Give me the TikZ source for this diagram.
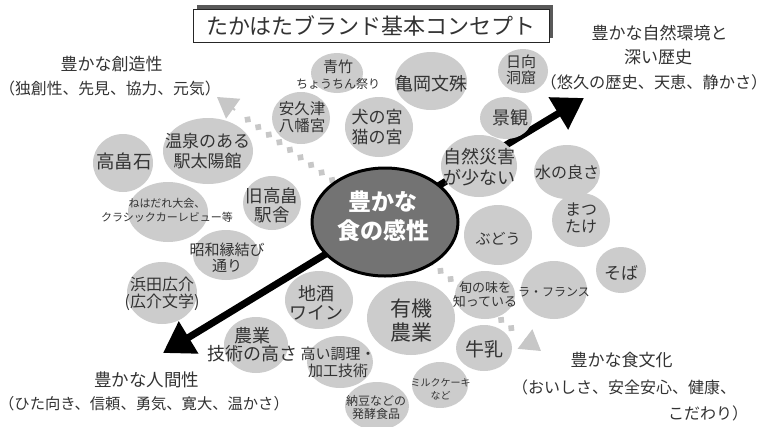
\documentclass[tikz,border=0pt]{standalone}
\usepackage{fontspec}
\setmainfont{Noto Sans CJK JP}
\usetikzlibrary{shapes.geometric,arrows.meta,decorations.markings}
\newcommand{\myfs}[2]{\fontsize{#1}{#2}\selectfont}
\newcommand{\bubb}[9]{%
  \node[bubble, minimum width=#4pt, minimum height=#5pt] (#1) at (#2,#3) {};
  \node[btext, font=#8] (#1-t) at (#6,#7) {#9};}
\tikzset{
  bubble/.style={ellipse, fill=black!20, draw=none, inner sep=0pt},
  btext/.style={align=center, text=black!80, inner sep=0pt},
  lab/.style={text=black!80, inner sep=0pt, font=\myfs{17}{20}},
  sub/.style={text=black!80, inner sep=0pt, font=\myfs{16}{19}},
  bigarrow/.style={line width=7pt, draw=black, -{Triangle[length=30pt,width=36pt]}},
  dotpath/.style={postaction={decorate}, decoration={markings,
      mark=between positions 0 and 1 step 13pt with {\fill[black!22] (-4,0)--(0,4)--(4,0)--(0,-4)--cycle;}}},
  dothead/.style={draw=black!22, line width=2pt, -{Triangle[length=20pt,width=24pt]}},
  coretxt/.style={align=center, inner sep=0pt, font=\bfseries\myfs{23}{29}},
}
\begin{document}
\begin{tikzpicture}[x=1pt,y=-1pt]
\useasboundingbox (0,0) rectangle (768,426);
\fill[white] (0,0) rectangle (768,426);

% title
\fill[black!65] (197,5) rectangle (553,38);
\node[draw=black!85, fill=white, line width=1pt, minimum width=356pt, minimum height=33pt,
      inner sep=0pt, font=\myfs{22}{24}, text=black!80] (title) at (371,25.5) {たかはたブランド基本コンセプト};

% corner labels
\node[lab] (ul1) at (111.5,64.5) {豊かな創造性};
\node[sub, font=\myfs{15.8}{19}] (ul2) at (110,88) {（独創性、先見、協力、元気）};
\node[lab] (ur1) at (659.5,32.5) {豊かな自然環境と};
\node[lab] (ur2) at (658,57) {深い歴史};
\node[sub, font=\myfs{16.2}{19}] (ur3) at (654,82) {（悠久の歴史、天恵、静かさ）};
\node[lab, font=\myfs{17.5}{20}] (ll1) at (146.5,380) {豊かな人間性};
\node[sub, font=\myfs{15.3}{19}] (ll2) at (144,403.5) {（ひた向き、信頼、勇気、寛大、温かさ）};
\node[lab] (lr1) at (621.5,360) {豊かな食文化};
\node[sub] (lr2) at (624,387.5) {（おいしさ、安全安心、健康、};
\node[sub] (lr3) at (708,413.5) {こだわり）};

% coordinates
\coordinate (ctr) at (385,218);
\coordinate (ulE) at (240,114);
\coordinate (ulA) at (235,110);
\coordinate (ulT) at (217,97);
\coordinate (lrS) at (390,230);
\coordinate (lrE) at (521,336);
\coordinate (lrA) at (525,339);
\coordinate (lrT) at (541,351);
\coordinate (neT) at (584,98);
\coordinate (swT) at (163,353);

% dotted grey arrows
\path[dotpath] (ctr) -- (ulE);
\draw[dothead] (ulA) -- (ulT);
\path[dotpath] (lrS) -- (lrE);
\draw[dothead] (lrA) -- (lrT);

% black arrow to upper right (behind the bubbles)
\draw[bigarrow] (ctr) -- (neT);

% bubbles
\bubb{aotake}{337}{73}{52}{40}{338}{75}{\myfs{12}{16}}{{\myfs{15}{16}青竹}\\ちょうちん祭り}
\bubb{kameoka}{431}{81}{72}{58}{431}{83.5}{\myfs{18}{20}}{亀岡文殊}
\bubb{hyuga}{523}{71}{50}{44}{521}{70}{\myfs{15}{16.5}}{日向\\洞窟}
\bubb{keikan}{506}{118}{52}{42}{510}{117.5}{\myfs{18}{20}}{景観}
\bubb{akutsu}{301}{118}{58}{52}{302}{117}{\myfs{15.5}{16.5}}{安久津\\八幡宮}
\bubb{inu}{379}{127}{68}{60}{377}{127}{\myfs{17}{19.5}}{犬の宮\\猫の宮}
\bubb{shizen}{479}{166}{76}{62}{479}{167}{\myfs{18}{20.5}}{自然災害\\が少ない}
\bubb{mizu}{567}{172}{66}{54}{567}{172.5}{\myfs{16}{18}}{水の良さ}
\bubb{ishi}{123}{163}{60}{58}{124}{161}{\myfs{18.5}{20}}{高畠石}
\bubb{onsen}{208}{151}{90}{66}{207.5}{151}{\myfs{17}{19.5}}{温泉のある\\駅太陽館}
\bubb{nehadare}{168}{212}{80}{60}{167}{210}{\myfs{11}{14}}{ねはだれ大会、\\クラシックカーレビュー等}
\bubb{kyu}{272}{203}{58}{54}{272}{205}{\myfs{17.5}{19}}{旧高畠\\駅舎}
\bubb{showa}{226}{255}{66}{50}{227}{257.5}{\myfs{15}{15.5}}{昭和縁結び\\通り}
\bubb{hamada}{162}{293}{70}{62}{162}{294}{\myfs{16}{17.5}}{浜田広介\\(広介文学)}
\bubb{jizake}{319}{300}{68}{58}{316.5}{302.5}{\myfs{18}{18.5}}{地酒\\ワイン}
\bubb{nogyo}{256}{345}{64}{56}{252.5}{344.5}{\myfs{18}{18.5}}{農業\\技術の高さ}
\bubb{chori}{340}{362}{66}{52}{338}{362.5}{\myfs{15}{16.5}}{高い調理・\\加工技術}
\bubb{yuki}{411}{318}{88}{74}{411.5}{320.5}{\myfs{21}{24}}{有機\\農業}
\bubb{natto}{377}{406}{64}{48}{376}{407.5}{\myfs{12}{12.5}}{納豆などの\\発酵食品}
\bubb{milk}{440}{385}{56}{46}{440.5}{389.5}{\myfs{10}{13}}{ミルクケーキ\\など}
\bubb{gyunyu}{484}{348}{56}{46}{484}{349.5}{\myfs{19}{20}}{牛乳}
\bubb{shun}{485}{295}{60}{48}{485}{294.5}{\myfs{13}{14}}{旬の味を\\知っている}
\bubb{budo}{498}{235}{68}{60}{498}{239}{\myfs{15}{17}}{ぶどう}
\bubb{matsu}{581}{220}{58}{54}{581}{218}{\myfs{16}{17.5}}{まつ\\たけ}
\bubb{lafr}{554}{290}{66}{58}{554}{292}{\myfs{12}{14}}{ラ・フランス}
\bubb{soba}{621}{270}{50}{46}{621}{272.5}{\myfs{17}{19}}{そば}

% black arrow to lower left
\draw[bigarrow] (ctr) -- (swT);

% central ellipse
\node[ellipse, fill=black!55, draw=black, line width=3pt, minimum width=146pt,
      minimum height=108pt, inner sep=0pt] (core) at (385,222) {};
\node[coretxt, text=white] (coretext) at (383,216) {豊かな\\食の感性};
\end{tikzpicture}
\end{document}
